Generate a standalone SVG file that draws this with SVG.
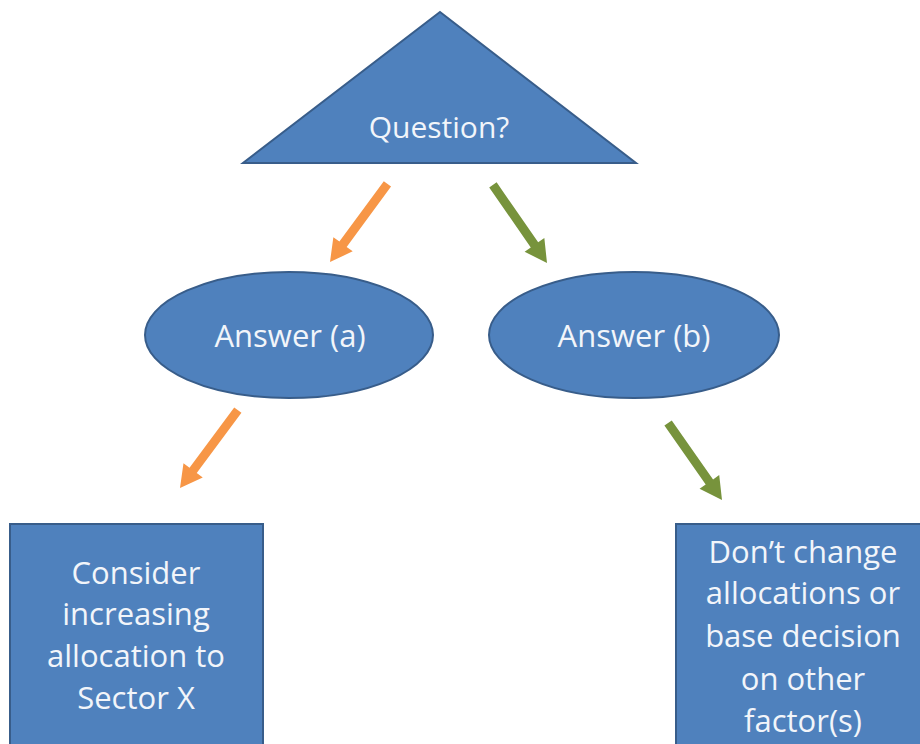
<svg xmlns="http://www.w3.org/2000/svg" width="920" height="744" viewBox="0 0 920 744">
<style>
.shape{fill:#4f81bd;stroke:#385d8a;stroke-width:2}
.lbl{font-family:"Open Sans","Noto Sans","Liberation Sans",sans-serif;fill:#f2f5fa;text-anchor:middle}
.orange{fill:#f79646}
.green{fill:#77933c}
</style>
<rect width="920" height="744" fill="#ffffff"/>
<g id="connectors">
<polygon class="orange" transform="translate(330,262) rotate(126.3)" points="0,0 -22,-12 -22,-4.5 -97,-4.5 -97,4.5 -22,4.5 -22,12"/>
<polygon class="green" transform="translate(547,263) rotate(55.3)" points="0,0 -22,-12 -22,-4.5 -95,-4.5 -95,4.5 -22,4.5 -22,12"/>
<polygon class="orange" transform="translate(180,488) rotate(126.6)" points="0,0 -22,-12 -22,-4.5 -97,-4.5 -97,4.5 -22,4.5 -22,12"/>
<polygon class="green" transform="translate(722,500) rotate(55)" points="0,0 -22,-12 -22,-4.5 -94,-4.5 -94,4.5 -22,4.5 -22,12"/>
</g>
<g id="question">
<polygon class="shape" points="440,12 636,163 243,163"/>
<text class="lbl" x="439" y="138" font-size="30">Question?</text>
</g>
<g id="answer-a">
<ellipse class="shape" cx="289" cy="335" rx="144" ry="63"/>
<text class="lbl" x="290" y="347" font-size="31">Answer (a)</text>
</g>
<g id="answer-b">
<ellipse class="shape" cx="634" cy="335" rx="145" ry="63"/>
<text class="lbl" x="634" y="347" font-size="31">Answer (b)</text>
</g>
<g id="consider">
<rect class="shape" x="10" y="524" width="253" height="230"/>
<text class="lbl" font-size="31"><tspan x="136" y="584">Consider</tspan><tspan x="136" y="625">increasing</tspan><tspan x="136" y="667">allocation to</tspan><tspan x="136" y="709">Sector X</tspan></text>
</g>
<g id="dont-change">
<rect class="shape" x="676" y="524" width="260" height="230"/>
<text class="lbl" font-size="31"><tspan x="803" y="563">Don’t change</tspan><tspan x="803" y="604">allocations or</tspan><tspan x="803" y="647">base decision</tspan><tspan x="803" y="690">on other</tspan><tspan x="803" y="732">factor(s)</tspan></text>
</g>
</svg>
